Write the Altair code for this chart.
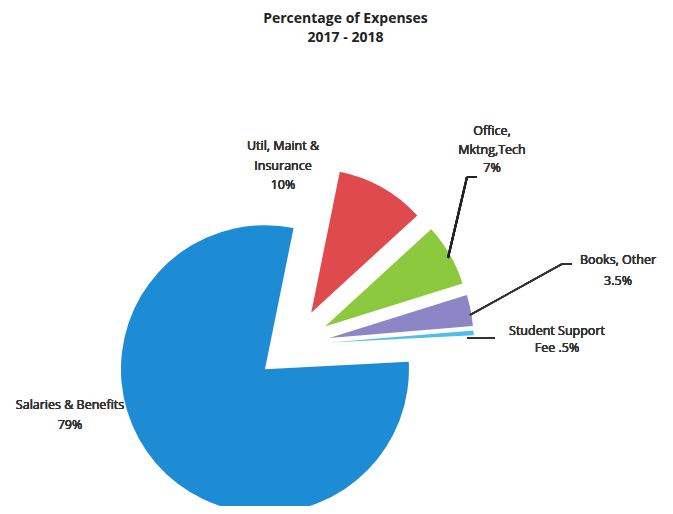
import altair as alt
import pandas as pd

# ---- data ----
categories = ["Util, Maint & Insurance", "Office, Mktng,Tech", "Books, Other",
              "Student Support Fee", "Salaries & Benefits"]
values = [10, 7, 3.5, 0.5, 79]
colors = ["#DF4A4D", "#8DC93E", "#8C85C6", "#4EC0E8", "#1E8CD5"]
title_lines = ["Percentage of Expenses", "2017 - 2018"]
label_util = ["Util, Maint &", "Insurance", "10%"]
label_office = ["Office,", "Mktng,Tech", "7%"]
label_books = ["Books, Other", "3.5%"]
label_student = ["Student Support", "Fee .5%"]
label_salaries = ["Salaries & Benefits", "79%"]

df = pd.DataFrame({"category": categories, "value": values,
                   "idx": list(range(len(categories)))})

W, H = 657, 446
CX, CY, R, EXPLODE = 285, 285, 144, 37
ROT = 0.20  # radians, start angle of first slice

base = alt.Chart(df).transform_joinaggregate(
    total="sum(value)"
).transform_window(
    cum="sum(value)", frame=[None, 0], sort=[{"field": "idx"}]
).transform_calculate(
    a1=f"{ROT} + 2*PI*datum.cum/datum.total",
    a0=f"{ROT} + 2*PI*(datum.cum - datum.value)/datum.total",
).transform_calculate(
    mid="(datum.a0 + datum.a1)/2"
).transform_calculate(
    px=f"{CX} + {EXPLODE}*sin(datum.mid)",
    py=f"{CY} - {EXPLODE}*cos(datum.mid)",
)

arcs = base.mark_arc(radius=R).encode(
    theta=alt.Theta("a0:Q", scale=None),
    theta2="a1:Q",
    x=alt.X("px:Q", scale=None, axis=None),
    y=alt.Y("py:Q", scale=None, axis=None),
    color=alt.Color("category:N", scale=alt.Scale(domain=categories, range=colors), legend=None),
)

FONT = "Open Sans"
def label(lines, x, y, lh, size=12.5):
    return alt.Chart(df).mark_text(
        text=lines, x=x, y=y, baseline="top", align="center",
        font=FONT, fontSize=size, fontWeight="normal", lineHeight=lh, color="#333333"
    ).encode(opacity=alt.value(1))

def rule(x, y, x2, y2, color="#222222", w=2):
    return alt.Chart(df).mark_rule(color=color, strokeWidth=w).encode(
        x=alt.value(x), y=alt.value(y), x2=alt.value(x2), y2=alt.value(y2))

layers = [
    label(label_salaries, 62, 339, 20),
    arcs,
    label(label_util, 275, 80, 19.5),
    label(label_office, 484, 65, 18.5),
    label(label_books, 610, 194, 21),
    label(label_student, 549, 265, 17),
    rule(469, 117, 459, 117),
    rule(459, 117, 440, 198),
    rule(564, 204, 554, 204, "#333333", 1.5),
    rule(554, 204, 462, 255, "#333333", 1.5),
    rule(459, 278, 487, 278, "#333333", 1.5),
]

chart = alt.layer(*layers).properties(
    width=W, height=H,
    autosize=alt.AutoSizeParams(type="none"),
    padding={"left": 0, "top": 52, "right": 0, "bottom": 0},
    title=alt.TitleParams(text=title_lines, font=FONT, fontSize=14, fontWeight="bold",
                          anchor="middle", dx=9, offset=15, lineHeight=19, color="#222222"),
).configure_view(stroke=None)

chart.save("out.html", embed_options={"renderer": "svg", "actions": False})
